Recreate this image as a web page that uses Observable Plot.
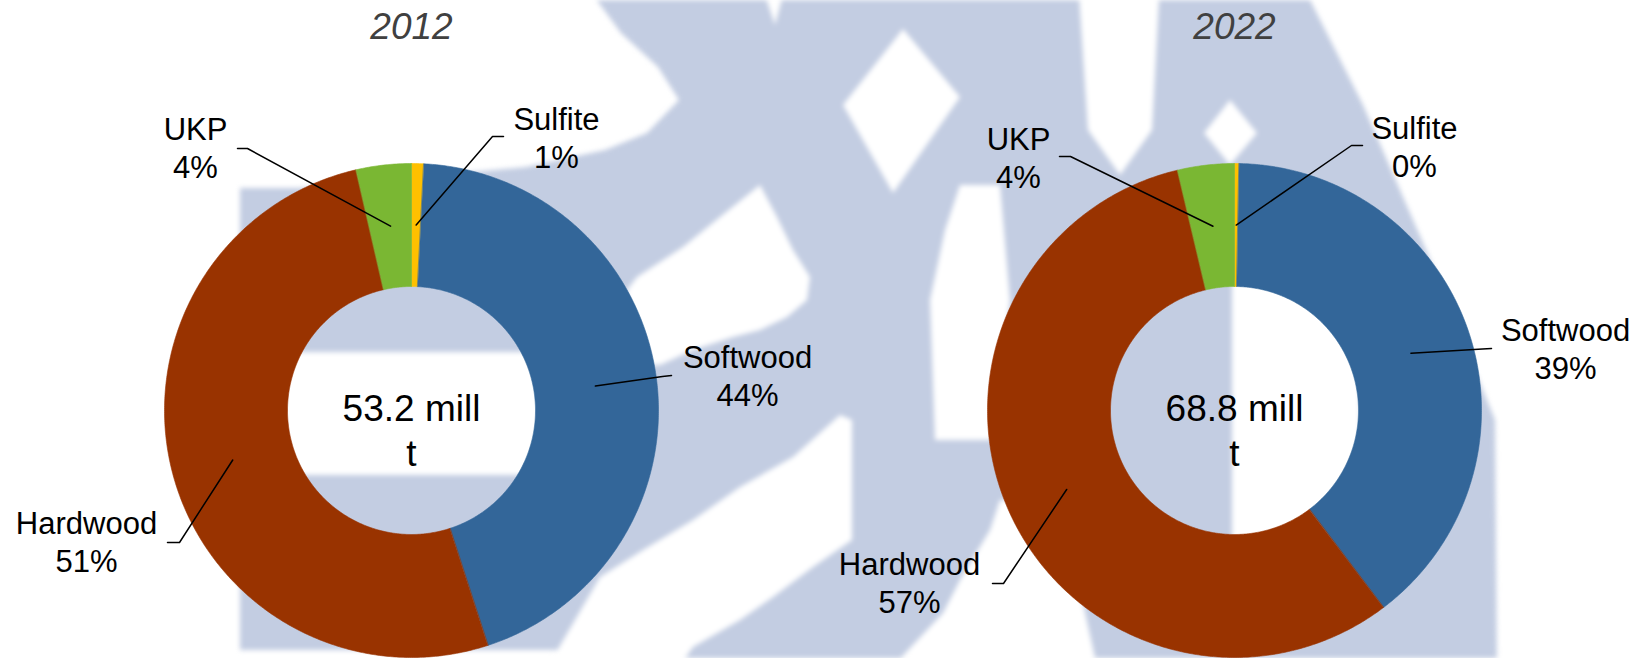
<!DOCTYPE html>
<html>
<head>
<meta charset="utf-8">
<script src="https://cdn.jsdelivr.net/npm/d3@7"></script>
<script src="https://cdn.jsdelivr.net/npm/@observablehq/plot@0.6"></script>
<style>
  html, body { margin: 0; padding: 0; background: #ffffff; }
  #wrap { position: relative; width: 1650px; height: 658px; overflow: hidden; }
  #wm { position: absolute; left: 0; top: 0; filter: blur(2.5px); }
  #chart { position: absolute; left: 0; top: 0; }
</style>
</head>
<body>
<div id="wrap">
  <svg id="wm" width="1650" height="658"></svg>
  <div id="chart"></div>
</div>
<script>
// ---------------- data ----------------
const years = ["2012", "2022"];
const categories = ["Sulfite", "Softwood", "Hardwood", "UKP"]; // clockwise from 12 o'clock
const values2012 = [0.8, 44.2, 51.4, 3.6];   // share, %
const values2022 = [0.3, 39.4, 56.6, 3.7];   // share, %
const totals = [53.2, 68.8];                 // mill t
const totalUnit = ["mill", "t"];

// ---------------- styles / layout ----------------
const colors = ["#ffc000", "#336699", "#993300", "#7ab733"];
const W = 1650, H = 658;
const centersX = [411, 1234], CY = 410, R = 247, R0 = 124;
const FONT = "'Liberation Sans', Arial, Helvetica, sans-serif";

// label placement: text centre x, last-line baseline y, leader start (elbow) points
const labelLayout = {
  "2012": {
    Sulfite:  {tx: 556,  ty: 167, path: [[503, 136], [492, 136]]},
    Softwood: {tx: 747,  ty: 405, path: [[671, 375], [662, 376]]},
    Hardwood: {tx: 86,   ty: 571, path: [[167, 542], [179, 542]]},
    UKP:      {tx: 195,  ty: 177, path: [[237, 148], [247, 148]]}
  },
  "2022": {
    Sulfite:  {tx: 1414, ty: 176, path: [[1362, 145], [1351, 145]]},
    Softwood: {tx: 1565, ty: 378, path: [[1491, 348], [1482, 348.5]]},
    Hardwood: {tx: 909,  ty: 612, path: [[992, 583], [1003, 583]]},
    UKP:      {tx: 1018, ty: 187, path: [[1059, 156], [1070, 156]]}
  }
};

// ---------------- background watermark (decoration) ----------------
const wmBlue = [
  [[582,-20],[1300,-20],[1363,105],[1427,252],[1495,420],[1497,680],[600,680],[600,650],[240,650],[240,188],[300,188],[526,167],[605,150],[647,133],[679,100],[658,67],[621,33]]
];
const wmWhite = [
  [[903,29],[960,97],[893,193],[843,105]],
  [[1078,-20],[1160,-20],[1152,130],[1120,175],[1088,130]],
  [[1230,100],[1257,133],[1230,165],[1204,133]],
  [[760,185],[777,217],[793,250],[810,277],[807,300],[787,317],[760,330],[733,337],[693,350],[660,365],[630,365],[627,290],[637,277],[683,247],[720,217]],
  [[840,415],[852,420],[852,540],[813,567],[773,597],[740,620],[693,647],[670,680],[540,680],[600,577],[643,550],[693,520],[740,487],[793,457]],
  [[960,185],[1000,185],[1010,300],[995,440],[935,440],[930,300],[945,230]],
  [[1000,500],[1060,500],[1100,680],[880,680],[943,613],[960,580],[990,530]],
  [[270,352],[560,352],[560,475],[270,475]],
  [[1232,280],[1300,280],[1360,300],[1360,540],[1232,540]],
  [[760,-20],[787,-20],[775,25]]
];
{
  const g = d3.select("#wm").append("g");
  wmBlue.forEach(p => g.append("polygon").attr("points", p.join(" ")).attr("fill", "#c3cde2"));
  wmWhite.forEach(p => g.append("polygon").attr("points", p.join(" ")).attr("fill", "#ffffff"));
}

// ---------------- build mark tables ----------------
const series = years.map((year, i) => ({
  year, values: i === 0 ? values2012 : values2022, total: totals[i], cx: centersX[i]
}));
const slicePts = [], leaders = [], labels = [], centers = [], titles = [];
for (const s of series) {
  const sum = d3.sum(s.values);
  const arcs = d3.pie().sort(null).startAngle(0).endAngle(2 * Math.PI)(s.values);
  arcs.forEach((a, j) => {
    const cat = categories[j], id = s.year + "-" + cat;
    const span = a.endAngle - a.startAngle;
    const n = Math.max(2, Math.ceil(span / (Math.PI / 360)));
    for (let k = 0; k <= n; k++) {
      const t = a.startAngle + span * k / n;
      slicePts.push({id, cat, x: s.cx + R * Math.sin(t), y: CY - R * Math.cos(t)});
    }
    for (let k = n; k >= 0; k--) {
      const t = a.startAngle + span * k / n;
      slicePts.push({id, cat, x: s.cx + R0 * Math.sin(t), y: CY - R0 * Math.cos(t)});
    }
    const mid = (a.startAngle + a.endAngle) / 2, rm = (R + R0) / 2;
    const L = labelLayout[s.year][cat];
    L.path.forEach(p => leaders.push({id, x: p[0], y: p[1]}));
    leaders.push({id, x: s.cx + rm * Math.sin(mid), y: CY - rm * Math.cos(mid)});
    labels.push({x: L.tx, y: L.ty, text: `${cat}\n${Math.round(a.value / sum * 100)}%`});
  });
  centers.push({x: s.cx, y: 465, text: `${s.total} ${totalUnit[0]}\n${totalUnit[1]}`});
  titles.push({x: s.cx, y: 38, text: s.year});
}

// ---------------- plot ----------------
const chart = Plot.plot({
  width: W, height: H,
  marginTop: 0, marginRight: 0, marginBottom: 0, marginLeft: 0,
  x: {domain: [0, W], range: [0, W], axis: null},
  y: {domain: [0, H], range: [0, H], axis: null},
  color: {domain: categories, range: colors},
  style: {background: "transparent", fontFamily: FONT, overflow: "visible"},
  marks: [
    Plot.line(slicePts, {x: "x", y: "y", z: "id", fill: "cat", stroke: "cat", strokeWidth: 0.6, curve: "linear-closed"}),
    Plot.line(leaders, {x: "x", y: "y", z: "id", stroke: "#000000", strokeWidth: 1.5, curve: "linear"}),
    Plot.text(labels, {x: "x", y: "y", text: "text", fontSize: 31, lineHeight: 1.2, lineAnchor: "bottom", textAnchor: "middle", fill: "#000000"}),
    Plot.text(centers, {x: "x", y: "y", text: "text", fontSize: 37, lineHeight: 1.216, lineAnchor: "bottom", textAnchor: "middle", fill: "#000000"}),
    Plot.text(titles, {x: "x", y: "y", text: "text", fontSize: 37, fontStyle: "italic", lineAnchor: "bottom", textAnchor: "middle", fill: "#404040"})
  ]
});
document.getElementById("chart").appendChild(chart);
</script>
</body>
</html>
